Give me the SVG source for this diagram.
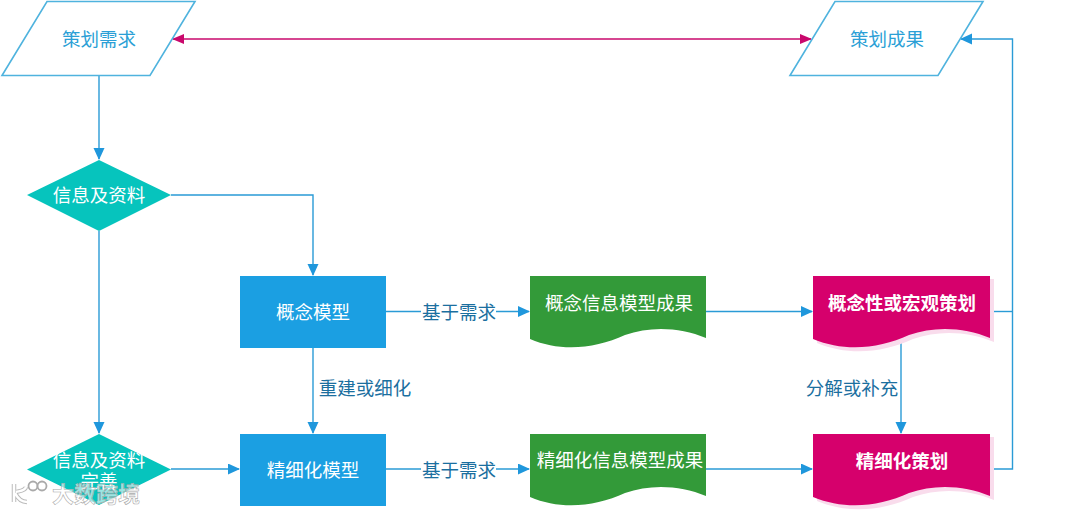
<svg xmlns="http://www.w3.org/2000/svg" width="1080" height="513" viewBox="0 0 1080 513">
<style>
text{font-family:"Noto Sans CJK SC","Liberation Sans",sans-serif;font-size:18.500px;text-anchor:middle;dominant-baseline:central}
.para{fill:#fff;stroke:#4fb3de;stroke-width:1.6}
.ptext{fill:#2b9fd6}
.dia{fill:#06c4bd}
.box{fill:#1b9fe2}
.green{fill:#339a39}
.pink{fill:#d6006c}
.shadow{fill:#f9dcec}
.w{fill:#fff}
.b{font-weight:700}
.lab{fill:#1b6f9f}
.c{fill:none;stroke:#2a9bd6;stroke-width:1.4}
.m{fill:none;stroke:#c9086c;stroke-width:1.4}
.wm{fill:#fff;fill-opacity:.6;stroke:#aaa;stroke-width:.6;font-size:22px;font-weight:700}
</style>
<defs>
<marker id="a" markerUnits="userSpaceOnUse" markerWidth="12" markerHeight="12" refX="11" refY="5.5" orient="auto"><path d="M0 0L12 5.500L0 11z" fill="#1f97dc"/></marker>
<marker id="p" markerUnits="userSpaceOnUse" markerWidth="12" markerHeight="12" refX="11" refY="5" orient="auto-start-reverse"><path d="M0 0L12 5L0 10z" fill="#c9086c"/></marker>
</defs>
<g id="connectors">
<path class="c" d="M99 76V159" marker-end="url(#a)"/>
<path class="c" d="M99 231V433" marker-end="url(#a)"/>
<path class="c" d="M171 195H313V275" marker-end="url(#a)"/>
<path class="c" d="M171 469H239" marker-end="url(#a)"/>
<path class="c" d="M313 348V433" marker-end="url(#a)"/>
<path class="c" d="M386 311.500H529" marker-end="url(#a)"/>
<path class="c" d="M386 469H529" marker-end="url(#a)"/>
<path class="c" d="M706 311.500H812" marker-end="url(#a)"/>
<path class="c" d="M706 469H812" marker-end="url(#a)"/>
<path class="c" d="M901 339V433" marker-end="url(#a)"/>
<path class="c" d="M990 311.500H1012"/>
<path class="c" d="M990 469H1012.500V39H961" marker-end="url(#a)"/>
<path class="m" d="M173 39H811" marker-start="url(#p)" marker-end="url(#p)"/>
<rect x="421" y="302" width="75" height="20" fill="#fff"/>
<rect x="421" y="459" width="75" height="20" fill="#fff"/>
<text class="lab" x="459" y="311">基于需求</text>
<text class="lab" x="459" y="468.500">基于需求</text>
<text class="lab" x="365" y="386.500">重建或细化</text>
<text class="lab" x="852" y="386.500">分解或补充</text>
</g>
<g id="n1"><path class="para" d="M47 1.500H195L150 75.500H2z"/><text class="ptext" x="99" y="38">策划需求</text></g>
<g id="n2"><path class="para" d="M835 1.500H983L938 75.500H790z"/><text class="ptext" x="887" y="38">策划成果</text></g>
<g id="n3"><path class="dia" d="M99 160L171 195L99 231L27 195z"/><text class="w" x="99" y="193.500">信息及资料</text></g>
<g id="n4"><path class="dia" d="M99 434L171 469.500L99 505L27 469.500z"/><text class="w" x="99" y="459">信息及资料</text><text class="w" x="99" y="480">完善</text></g>
<g id="n5"><rect class="box" x="240" y="276" width="146" height="72"/><text class="w" x="313" y="311">概念模型</text></g>
<g id="n6"><rect class="box" x="240" y="434" width="146" height="72"/><text class="w" x="313" y="469">精细化模型</text></g>
<g id="n7"><path class="green" d="M530 276H706V338C680 327 650 326 625 335C595 349 560 352 530 339z"/><text class="w" x="619" y="302">概念信息模型成果</text></g>
<g id="n8"><path class="green" d="M530 434H706V496C680 485 650 484 625 493C595 507 560 510 530 497z"/><text class="w" x="620" y="459">精细化信息模型成果</text></g>
<g id="n9"><path class="shadow" d="M817 279H994V342C968 331 938 330 913 339C883 353 848 356 817 343z"/><path class="pink" d="M813 276H990V338C964 327 934 326 909 335C879 349 844 352 813 339z"/><text class="w b" x="902" y="302">概念性或宏观策划</text></g>
<g id="n10"><path class="shadow" d="M817 437H994V500C968 489 938 488 913 497C883 511 848 514 817 501z"/><path class="pink" d="M813 434H990V496C964 485 934 484 909 493C879 507 844 510 813 497z"/><text class="w b" x="902" y="460">精细化策划</text></g>
<g id="watermark"><path d="M14 484V502M15 493C18 499 22 502 27 502M16 492C19 491 25 491 26 487" fill="none" stroke="#bbb" stroke-width="4.500"/><path d="M14 484V502M15 493C18 499 22 502 27 502M16 492C19 491 25 491 26 487" fill="none" stroke="#fff" stroke-width="2.500"/><circle cx="33" cy="486" r="4.500" fill="#fff" fill-opacity=".6" stroke="#aaa" stroke-width="1.800"/><circle cx="42" cy="486" r="4.500" fill="#fff" fill-opacity=".6" stroke="#aaa" stroke-width="1.800"/><text class="wm" x="96" y="492">大数跨境</text></g>
</svg>
